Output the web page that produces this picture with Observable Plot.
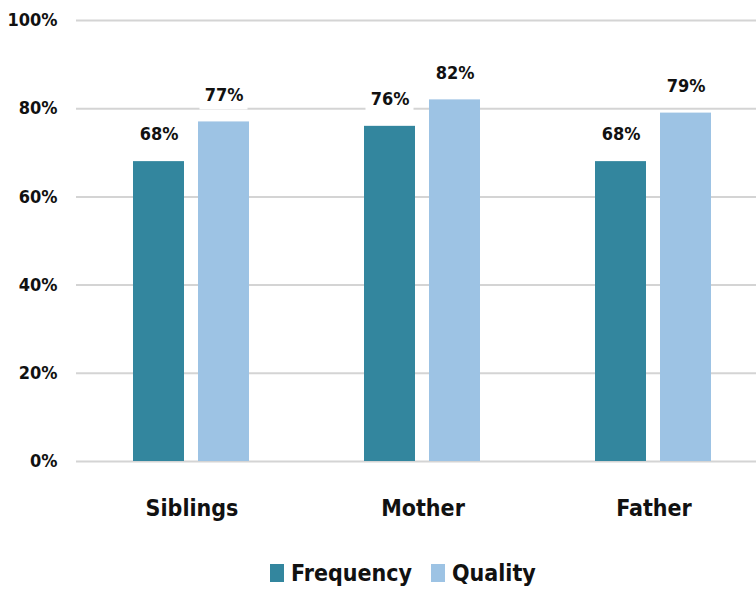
<!DOCTYPE html>
<html>
<head>
<meta charset="utf-8">
<script src="https://cdn.jsdelivr.net/npm/d3@7"></script>
<script src="https://cdn.jsdelivr.net/npm/@observablehq/plot@0.6"></script>
<style>
  body { margin: 0; background: #fff; font-family: "DejaVu Sans Condensed", "DejaVu Sans", sans-serif; font-stretch: condensed; }
  #chart svg { display: block; overflow: hidden; }
  #chart svg text { font-stretch: condensed; }
  .legend { display: flex; align-items: center; padding-left: 270px; padding-top: 8px; height: 40px; font-size: 23px; font-weight: bold; color: #111; }
  .legend .item { display: flex; align-items: center; margin-right: 19px; }
  .legend .sw { width: 14px; height: 18px; margin-right: 7px; }
</style>
</head>
<body>
<div id="chart"></div>
<div class="legend" id="legend"></div>
<script>
const categories = ["Siblings", "Mother", "Father"];
const seriesNames = ["Frequency", "Quality"];
const frequency = [68, 76, 68];
const quality = [77, 82, 79];
const yTicks = [0, 20, 40, 60, 80, 100];
const colors = ["#33869E", "#9DC3E4"];

const rows = categories.flatMap((c, i) => [
  {category: c, series: "Frequency", value: frequency[i]},
  {category: c, series: "Quality", value: quality[i]}
]);

const font = "'DejaVu Sans Condensed', 'DejaVu Sans', sans-serif";

const chart = Plot.plot({
  width: 756,
  height: 545,
  marginTop: 20,
  marginBottom: 84,
  marginLeft: 75,
  marginRight: -14,
  style: {fontFamily: font, color: "#111", background: "#fff"},
  fx: {domain: categories, padding: 0, label: null},
  x: {domain: seriesNames, paddingInner: 0.212, paddingOuter: 0.86, axis: null},
  y: {domain: [0, 100], ticks: yTicks, label: null},
  color: {domain: seriesNames, range: colors},
  marks: [
    // light horizontal gridlines
    Plot.ruleY(yTicks, {stroke: "#d4d4d4", strokeWidth: 2}),
    Plot.axisY({ticks: yTicks, tickSize: 0, tickPadding: 19, tickFormat: d => d + "%", fontSize: 18, fontWeight: "bold", label: null}),
    Plot.axisFx({anchor: "bottom", tickSize: 0, tickPadding: 38, fontSize: 23, fontWeight: "bold", label: null}),
    Plot.barY(rows, {fx: "category", x: "series", y: "value", fill: "series"}),
    // white boxes behind the value labels
    Plot.barY(rows, {
      fx: "category", x: "series", y1: "value", y2: "value",
      fill: "white", insetTop: -42, insetBottom: 12, insetLeft: 1.5, insetRight: 1.5
    }),
    Plot.text(rows, {
      fx: "category", x: "series", y: "value",
      text: d => d.value + "%",
      dy: -27, fontSize: 18, fontWeight: "bold", fill: "#111"
    })
  ]
});
document.getElementById("chart").append(chart);

const legend = document.getElementById("legend");
seriesNames.forEach((s, i) => {
  const item = document.createElement("div");
  item.className = "item";
  const sw = document.createElement("span");
  sw.className = "sw";
  sw.style.background = colors[i];
  const label = document.createElement("span");
  label.textContent = s;
  item.append(sw, label);
  legend.append(item);
});
</script>
</body>
</html>
